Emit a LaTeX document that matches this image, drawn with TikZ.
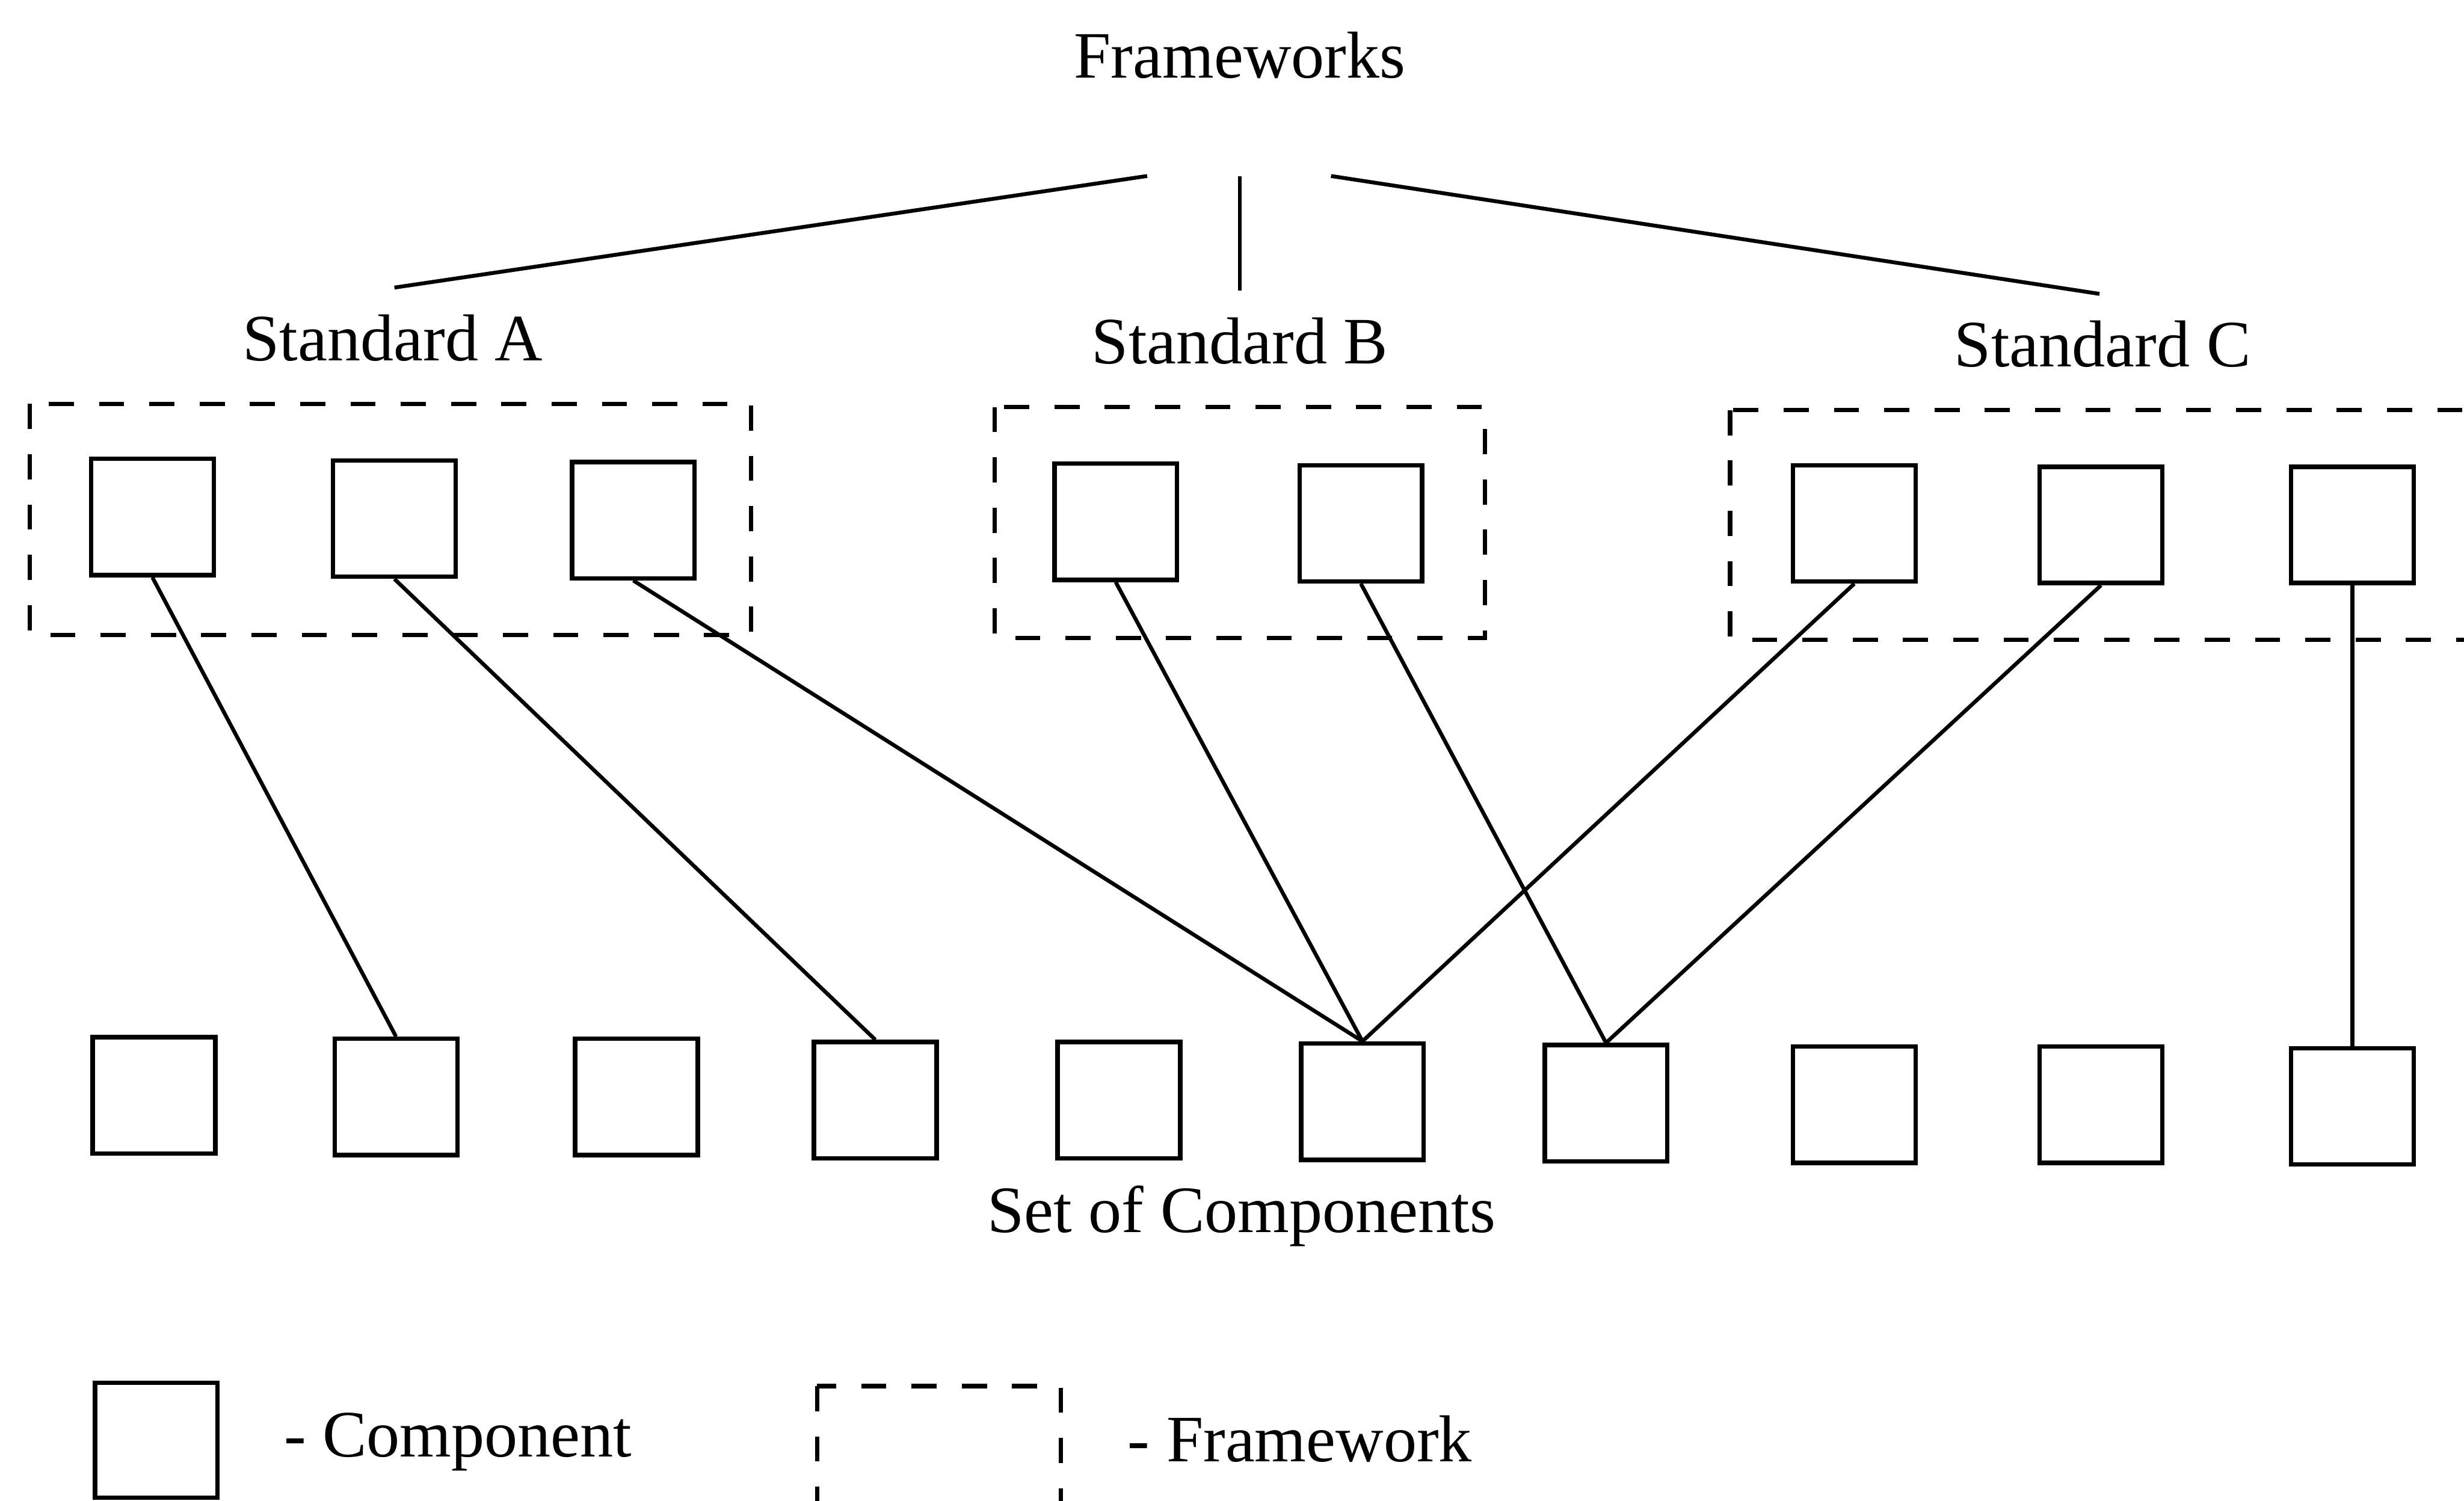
\documentclass[tikz,border=0pt]{standalone}
\usepackage{fontspec}
\setmainfont{Liberation Serif}
\usetikzlibrary{positioning}

\begin{document}
\begin{tikzpicture}[
    comp/.style={draw, line width=0.8pt, minimum width=7.8mm, minimum height=7.4mm, inner sep=0pt},
    fwbox/.style={line width=0.8pt, dash pattern=on 1.6mm off 1.6mm},
    link/.style={line width=0.7pt},
    lbl/.style={font=\fontsize{12}{14}\selectfont}
  ]
    \useasboundingbox (0,0) rectangle (15.68,9.55);
    % Top of the tree
    \node[lbl] (fw) at (7.89,9.20) {Frameworks};
    \node[lbl] (stdA) at (2.50,7.40) {Standard A};
    \node[lbl] (stdB) at (7.89,7.38) {Standard B};
    \node[lbl] (stdC) at (13.38,7.36) {Standard C};
    \coordinate (fwL) at (7.30,8.43);
    \coordinate (fwM) at (7.89,8.43);
    \coordinate (fwR) at (8.47,8.43);
    \coordinate (brA) at (2.51,7.72);
    \coordinate (brB) at (7.89,7.70);
    \coordinate (brC) at (13.36,7.68);
    \draw[link] (fwL) -- (brA);
    \draw[link] (fwM) -- (brB);
    \draw[link] (fwR) -- (brC);
    % Framework boxes (C runs off the right side)
    \draw[fwbox] (0.19,6.98) rectangle (4.78,5.51);
    \draw[fwbox] (6.33,6.96) rectangle (9.45,5.49);
    \draw[fwbox] (11.01,6.94) rectangle (16.20,5.48);
    % Components inside the frameworks
    \node[comp] (a1) at (0.97,6.26) {};
    \node[comp] (a2) at (2.51,6.25) {};
    \node[comp] (a3) at (4.03,6.24) {};
    \node[comp] (b1) at (7.10,6.23) {};
    \node[comp] (b2) at (8.66,6.22) {};
    \node[comp] (c1) at (11.80,6.22) {};
    \node[comp] (c2) at (13.37,6.21) {};
    \node[comp] (c3) at (14.97,6.21) {};
    % Set of components
    \foreach \i/\x/\y in {1/0.98/2.58, 2/2.52/2.57, 3/4.05/2.57, 4/5.57/2.55,
        5/7.12/2.55, 6/8.67/2.54, 7/10.22/2.53, 8/11.80/2.52, 9/13.37/2.52, 10/14.97/2.51} {
      \node[comp] (s\i) at (\x,\y) {};
    }
    \node[lbl, anchor=base] (set) at (7.90,1.71) {Set of Components};
    % Which component each framework uses
    \draw[link] (a1.south) -- (s2.north);
    \draw[link] (a2.south) -- (s4.north);
    \draw[link] (a3.south) -- (s6.north);
    \draw[link] (b1.south) -- (s6.north);
    \draw[link] (b2.south) -- (s7.north);
    \draw[link] (c1.south) -- (s6.north);
    \draw[link] (c2.south) -- (s7.north);
    \draw[link] (c3.south) -- (s10.north);
    % Legend
    \node[comp, minimum height=7.3mm] (legComp) at (0.995,0.385) {};
    \node[lbl, anchor=base west, inner sep=0pt] (legCompTxt) at (1.80,0.28) {- Component};
    \draw[fwbox] (5.20,0.73) rectangle (6.75,-0.02);
    \node[lbl, anchor=base west, inner sep=0pt] (legFwTxt) at (7.17,0.25) {- Framework};
\end{tikzpicture}
\end{document}
